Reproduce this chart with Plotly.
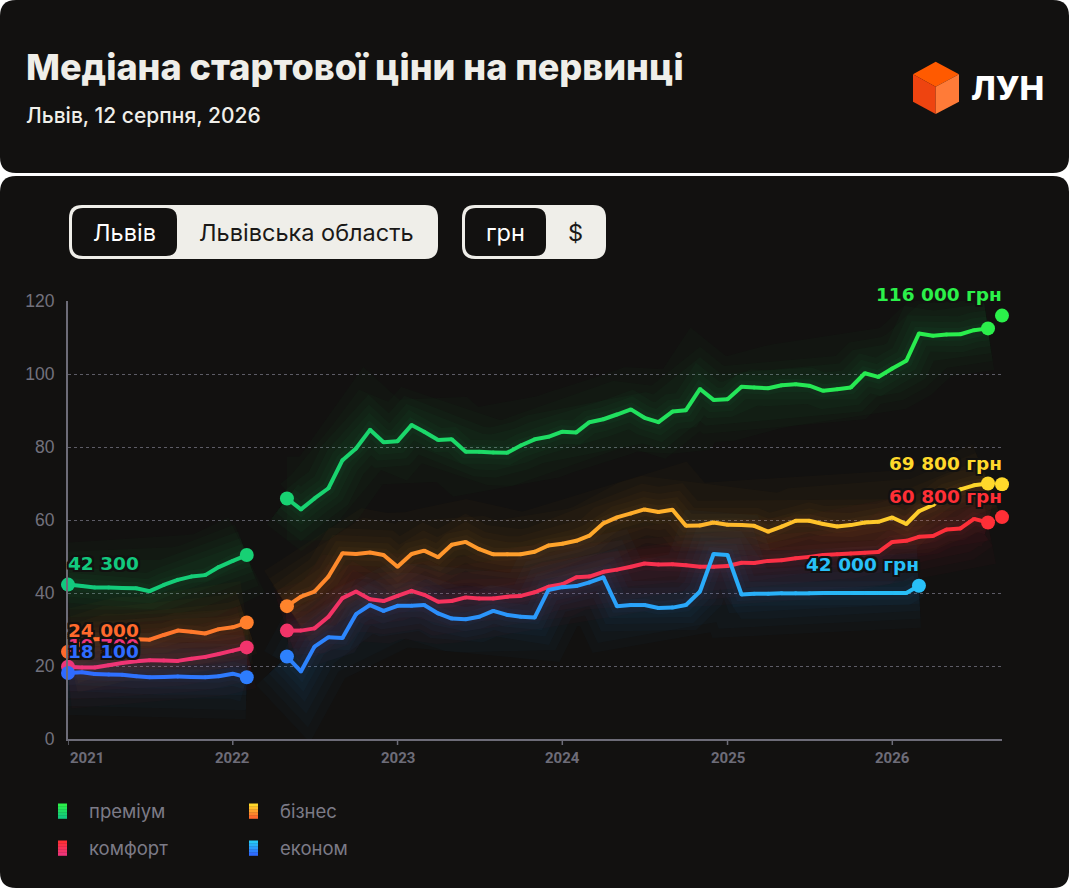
import pandas as pd
import plotly.graph_objects as go

# %% data (thousand UAH per m2, monthly, Jan 2021 .. Aug 2026)
months = pd.date_range("2021-01-01", "2026-08-01", freq="MS")
current_date = pd.Timestamp("2026-09-01")

premium = [42.3, 41.9, 41.5, 41.5, 41.4, 41.3, 40.5, 42.2, 43.6, 44.5, 44.9, 47.1, 48.8, 50.4,
           None, None,
           65.9, 62.9, 65.9, 68.7, 76.4, 79.6, 84.7, 81.3, 81.6, 86.0, 84.2, 81.9, 82.1, 78.7,
           78.7, 78.5, 78.4, 80.4,
           82.1, 82.8, 84.2, 84.0, 86.8, 87.6, 88.9, 90.3, 88.0, 86.8, 89.7, 90.1, 95.9, 92.9,
           93.1, 96.5, 96.3,
           96.1, 96.9, 97.2, 96.8, 95.4, 95.8, 96.3, 100.2, 99.2, 101.5, 103.6, 111.1, 110.5,
           110.8, 110.9, 112.0, 112.5]
business = [23.9, 26.4, 27.3, 27.5, 27.4, 27.3, 27.2, 28.5, 29.7, 29.4, 28.9, 30.1, 30.6, 31.9,
            None, None,
            36.4, 39.0, 40.4, 44.5, 50.9, 50.7, 51.1, 50.4, 47.2, 50.7, 51.6, 49.8, 53.2, 54.0,
            52.0, 50.6, 50.6, 50.6,
            51.3, 53.0, 53.5, 54.3, 55.7, 59.1, 60.7, 61.8, 62.9, 62.2, 62.8, 58.4, 58.5, 59.3,
            58.7, 58.6, 58.4,
            56.8, 58.2, 59.8, 59.8, 58.9, 58.2, 58.6, 59.3, 59.5, 60.7, 58.9, 62.4, 64.1,
            66.8, 68.4, 69.5, 70.0]
comfort = [19.8, 19.6, 19.6, 20.2, 20.8, 21.3, 21.6, 21.5, 21.4, 22.0, 22.5, 23.3, 24.2, 25.1,
           None, None,
           29.7, 29.7, 30.3, 33.5, 38.6, 40.4, 38.3, 37.8, 39.2, 40.6, 39.5, 37.6, 37.8, 38.8,
           38.5, 38.5, 39.0, 39.2,
           40.2, 41.7, 42.4, 44.3, 44.5, 45.8, 46.4, 47.2, 48.1, 47.8, 47.9, 47.6, 47.2, 47.2,
           47.4, 48.3, 48.2,
           48.8, 49.0, 49.5, 49.9, 50.4, 50.6, 50.8, 51.0, 51.2, 54.0, 54.3, 55.4, 55.6,
           57.4, 57.7, 60.3, 59.3]
econom = [18.1, 18.3, 17.8, 17.7, 17.6, 17.2, 16.9, 17.0, 17.1, 17.0, 16.9, 17.2, 17.9, 16.9,
          None, None,
          22.6, 18.5, 25.3, 27.9, 27.7, 34.2, 36.7, 35.1, 36.5, 36.5, 36.7, 34.4, 33.0, 32.8,
          33.5, 35.1, 34.0, 33.5,
          33.3, 40.8, 41.6, 41.9, 42.9, 44.3, 36.4, 36.7, 36.7, 35.9, 36.0, 36.7, 40.4, 50.7,
          50.4, 39.6, 39.8,
          39.8, 39.9, 39.9, 39.9, 40.0, 40.0, 40.0, 40.0, 40.0, 40.0, 40.0, 42.0,
          None, None, None, None, None]

current_values = {"premium": 116.0, "business": 69.8, "comfort": 60.8}
start_labels = {"premium": "42 300", "business": "24 000", "comfort": "19 700", "econom": "18 100"}
end_labels = {"premium": "116 000 грн", "business": "69 800 грн", "comfort": "60 800 грн",
              "econom": "42 000 грн"}
legend_names = {"premium": "преміум", "business": "бізнес", "comfort": "комфорт", "econom": "економ"}
year_ticks = ["2021", "2022", "2023", "2024", "2025", "2026"]

series = {"comfort": comfort, "econom": econom, "business": business, "premium": premium}
# gradient colours: left end -> right end
grads = {
    "premium": ("#12c97e", "#2bf04a"),
    "business": ("#ff6a2c", "#ffd92b"),
    "comfort": ("#ee3579", "#ff2f36"),
    "econom": ("#2f6bff", "#27c8f7"),
}

BG = "#121110"
W, H = 1069, 888
L, R, T, B = 68, 1002, 301, 739


def hx(c):
    return tuple(int(c[i:i + 2], 16) for i in (1, 3, 5))


def mix(c1, c2, t):
    a, b = hx(c1), hx(c2)
    return "rgb(%d,%d,%d)" % tuple(round(a[i] + (b[i] - a[i]) * t) for i in range(3))


def rgba(c1, c2, t, al):
    a, b = hx(c1), hx(c2)
    return "rgba(%d,%d,%d,%.3f)" % (tuple(round(a[i] + (b[i] - a[i]) * t) for i in range(3)) + (al,))


def px(x):
    return (x - L) / (R - L)


def py(y):
    return (B - y) / (B - T)


def rrect(x0, y0, x1, y1, r):
    # rounded rect path in paper coords from pixel box
    rx, ry = r / (R - L), r / (B - T)
    a, b, c, d = px(x0), py(y0), px(x1), py(y1)  # b top, d bottom
    return (f"M{a + rx},{b} L{c - rx},{b} Q{c},{b} {c},{b - ry} L{c},{d + ry} Q{c},{d} {c - rx},{d} "
            f"L{a + rx},{d} Q{a},{d} {a},{d + ry} L{a},{b - ry} Q{a},{b} {a + rx},{b} Z")


n = len(months)
fig = go.Figure()

# soft glow behind the lines
for key, vals in series.items():
    c0, c1 = grads[key]
    for w, al in [(84, 0.022), (66, 0.024), (50, 0.026), (36, 0.028), (24, 0.03), (13, 0.035)]:
        fig.add_trace(go.Scatter(x=months, y=vals, mode="lines", connectgaps=False,
                                 line=dict(color=rgba(c0, c1, 0.5, al), width=w),
                                 hoverinfo="skip", showlegend=False))

# gradient lines
for key, vals in series.items():
    c0, c1 = grads[key]
    for i in range(n - 1):
        if vals[i] is None or vals[i + 1] is None:
            continue
        fig.add_trace(go.Scatter(x=[months[i], months[i + 1]], y=[vals[i], vals[i + 1]],
                                 mode="lines", line=dict(color=mix(c0, c1, (i + 0.5) / n), width=4),
                                 hoverinfo="skip", showlegend=False))
    pts = [(months[i], v, mix(c0, c1, i / n)) for i, v in enumerate(vals) if v is not None]
    fig.add_trace(go.Scatter(x=[p[0] for p in pts], y=[p[1] for p in pts], mode="markers",
                             marker=dict(size=4, color=[p[2] for p in pts], line=dict(width=0)),
                             hoverinfo="skip", showlegend=False))
    # segment end dots
    ends = []
    for i, v in enumerate(vals):
        if v is None:
            continue
        prev_none = i == 0 or vals[i - 1] is None
        next_none = i == n - 1 or vals[i + 1] is None
        if prev_none or next_none:
            ends.append(i)
    fig.add_trace(go.Scatter(x=[months[i] for i in ends], y=[vals[i] for i in ends], mode="markers",
                             marker=dict(size=14, color=[mix(c0, c1, i / n) for i in ends],
                                         line=dict(width=0)),
                             cliponaxis=False, hoverinfo="skip", showlegend=False))
    if key in current_values:
        fig.add_trace(go.Scatter(x=[current_date], y=[current_values[key]], mode="markers",
                                 marker=dict(size=14, color=c1, line=dict(width=0)),
                                 cliponaxis=False, hoverinfo="skip", showlegend=False))

shadow = ", ".join(f"{dx}px {dy}px 0 {BG}" for dx in (-2, 0, 2) for dy in (-2, 0, 2)
                   if (dx, dy) != (0, 0))
label_font = dict(family="DejaVu Sans", size=18.5, weight=700, shadow=shadow)

annotations = []
for key in ["comfort", "business", "econom", "premium"]:
    vals = series[key]
    c0, c1 = grads[key]
    annotations.append(dict(x=months[0], y=vals[0], text=start_labels[key], showarrow=False,
                            xanchor="left", yanchor="middle", yshift=21, xshift=-2,
                            font=dict(label_font, color=c0)))
for key in ["premium", "business", "comfort", "econom"]:
    vals = series[key]
    c0, c1 = grads[key]
    if key in current_values:
        x, y, col = current_date, current_values[key], c1
    else:
        last = max(i for i, v in enumerate(vals) if v is not None)
        x, y, col = months[last], vals[last], mix(c0, c1, last / n)
    annotations.append(dict(x=x, y=y, text=end_labels[key], showarrow=False, xanchor="right",
                            yanchor="middle", yshift=21, xshift=2, font=dict(label_font, color=col)))

# year labels
for i, yr in enumerate(year_ticks):
    annotations.append(dict(x=f"{yr}-01-01", y=0, yref="y", text=yr, showarrow=False,
                            xanchor="left" if i == 0 else "center", yanchor="top", yshift=-8,
                            font=dict(family="Roboto", size=15, weight=700, color="#6d6c78")))

# header texts
annotations += [
    dict(x=px(24), y=py(67), xref="paper", yref="paper", text="Медіана стартової ціни на первинці",
         showarrow=False, xanchor="left", yanchor="middle",
         font=dict(family="Inter", size=36, weight=800, color="#efeee9")),
    dict(x=px(24), y=py(116), xref="paper", yref="paper", text="Львів, 12 серпня, 2026",
         showarrow=False, xanchor="left", yanchor="middle",
         font=dict(family="Inter", size=21, weight=500, color="#efeee9")),
    dict(x=px(969), y=py(88), xref="paper", yref="paper", text="ЛУН", showarrow=False,
         xanchor="left", yanchor="middle",
         font=dict(family="Inter", size=33, weight=800, color="#ffffff")),
]
# toggles
for txt, cx, col in [("Львів", 124, "#ffffff"), ("Львівська область", 306, "#1a1918"),
                     ("грн", 505, "#ffffff"), ("$", 575, "#1a1918")]:
    annotations.append(dict(x=px(cx), y=py(232), xref="paper", yref="paper", text=txt,
                            showarrow=False, xanchor="center", yanchor="middle",
                            font=dict(family="Inter", size=23.5, color=col)))

# legend
legend_pos = [("premium", 58, 811), ("business", 249, 811), ("comfort", 58, 848), ("econom", 249, 848)]
shapes = [
    dict(type="path", path=rrect(0, 0, W, 173, 16), xref="paper", yref="paper",
         fillcolor=BG, line=dict(width=0), layer="below"),
    dict(type="path", path=rrect(0, 176, W, H, 16), xref="paper", yref="paper",
         fillcolor=BG, line=dict(width=0), layer="below"),
    dict(type="path", path=rrect(69, 205, 438, 259, 13), xref="paper", yref="paper",
         fillcolor="#efeee9", line=dict(width=0)),
    dict(type="path", path=rrect(72, 208, 177, 256, 11), xref="paper", yref="paper",
         fillcolor=BG, line=dict(width=0)),
    dict(type="path", path=rrect(462, 205, 606, 259, 13), xref="paper", yref="paper",
         fillcolor="#efeee9", line=dict(width=0)),
    dict(type="path", path=rrect(465, 208, 546, 256, 11), xref="paper", yref="paper",
         fillcolor=BG, line=dict(width=0)),
]
# logo cube
cube = {"top": (935.7, 61.7), "ur": (959, 74.3), "lr": (959, 101.7), "bot": (935.7, 114),
        "ll": (913, 101.7), "ul": (913, 74.3), "c": (935.7, 86.7)}
for pts, col in [(("top", "ur", "c", "ul"), "#ff5a00"), (("ul", "c", "bot", "ll"), "#ee4410"),
                 (("c", "ur", "lr", "bot"), "#ff7b38")]:
    p = " L".join(f"{px(cube[k][0])},{py(cube[k][1])}" for k in pts)
    shapes.append(dict(type="path", path=f"M{p} Z", xref="paper", yref="paper",
                       fillcolor=col, line=dict(width=0)))

for key, x0, yc in legend_pos:
    c0, c1 = grads[key]
    steps = 5
    for s in range(steps):
        y0 = yc - 7.5 + s * 15 / steps
        shapes.append(dict(type="rect", xref="paper", yref="paper", x0=px(x0), x1=px(x0 + 9),
                           y0=py(y0), y1=py(y0 + 15 / steps + 0.3), fillcolor=mix(c1, c0, s / (steps - 1)),
                           line=dict(width=0)))
    annotations.append(dict(x=px(x0 + 29), y=py(yc), xref="paper", yref="paper",
                            text=legend_names[key], showarrow=False, xanchor="left", yanchor="middle",
                            font=dict(family="Inter", size=18.5, color="#7c7b87")))

# x ticks marks
for yr in year_ticks:
    shapes.append(dict(type="line", xref="x", yref="paper", x0=f"{yr}-01-01", x1=f"{yr}-01-01",
                       y0=0, y1=py(B + 6), line=dict(color="#6d6c78", width=1.5)))

fig.update_layout(
    width=W, height=H,
    margin=dict(l=L, r=W - R, t=T, b=H - B),
    paper_bgcolor="#ffffff",
    plot_bgcolor="rgba(0,0,0,0)",
    showlegend=False,
    hovermode=False,
    annotations=annotations,
    shapes=shapes,
    xaxis=dict(type="date", range=[months[0], current_date], showgrid=False, showticklabels=False,
               zeroline=False, showline=True, linecolor="#6d6c78", linewidth=2, ticks=""),
    yaxis=dict(range=[0, 120], dtick=20, showgrid=True, gridcolor="#5d5c66", griddash="3px,3px",
               gridwidth=1, zeroline=False, showline=True, linecolor="#6d6c78", linewidth=2,
               ticks="", ticklabelstandoff=8,
               tickfont=dict(family="Liberation Sans", size=17.5, color="#72717d")),
)

fig.write_html("out.html", config={"displayModeBar": False},
               post_script="document.body.style.margin='0';")
